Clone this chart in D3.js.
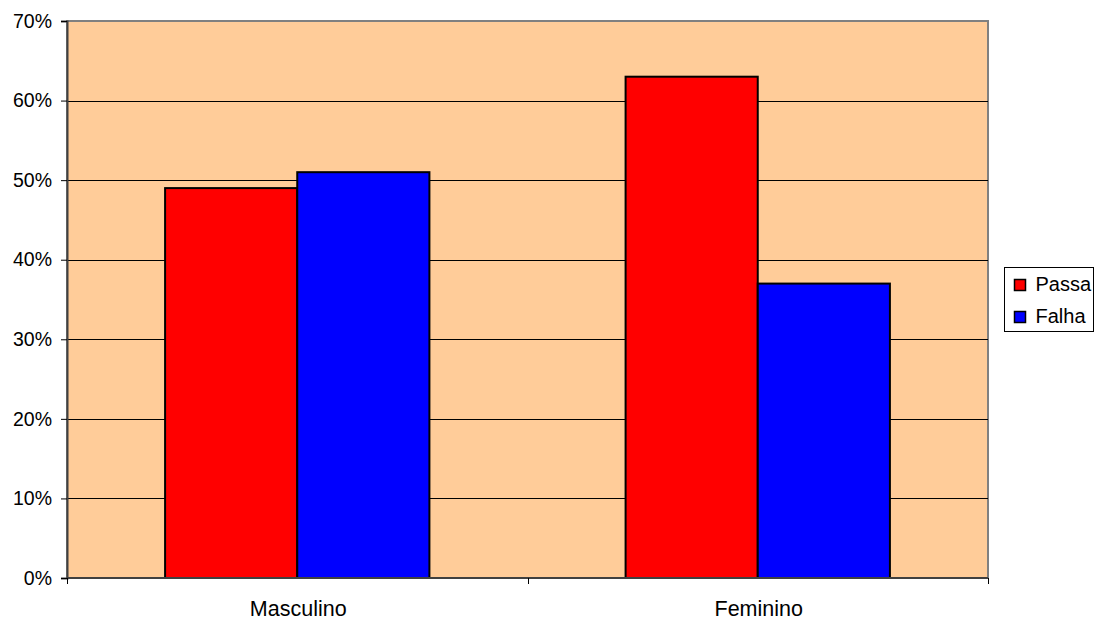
<!DOCTYPE html>
<html>
<head>
<meta charset="utf-8">
<script src="https://cdn.jsdelivr.net/npm/d3@7"></script>
<style>
  body { margin: 0; background: #fff; }
  text { font-family: "Liberation Sans", Arial, sans-serif; fill: #000; }
</style>
</head>
<body>
<svg id="chart" width="1095" height="621"></svg>
<script>
// Share of results by sex
const categories = ["Masculino", "Feminino"];
const seriesNames = ["Passa", "Falha"];
const passaValues = [0.49, 0.63];
const falhaValues = [0.51, 0.37];
const yTicks = [0, 0.1, 0.2, 0.3, 0.4, 0.5, 0.6, 0.7];
const seriesColors = ["#ff0000", "#0000ff"];

const svg = d3.select("#chart");
const plot = { left: 67, top: 21, right: 988, bottom: 578 };

const x0 = d3.scaleBand().domain(categories)
  .range([plot.left, plot.right]).paddingInner(0.426).paddingOuter(0.213);
const x1 = d3.scaleBand().domain(seriesNames).range([0, x0.bandwidth()]);
const y = d3.scaleLinear().domain([0, 0.7]).range([plot.bottom, plot.top]);

// plot background
svg.append("rect")
  .attr("x", plot.left).attr("y", plot.top)
  .attr("width", plot.right - plot.left).attr("height", plot.bottom - plot.top)
  .attr("fill", "#ffcc99").attr("stroke", "#808080").attr("stroke-width", 2);

// horizontal gridlines
svg.append("g").selectAll("line")
  .data(yTicks.filter(t => t > 0 && t < 0.7))
  .join("line")
  .attr("x1", plot.left).attr("x2", plot.right)
  .attr("y1", d => Math.round(y(d)) + 0.5).attr("y2", d => Math.round(y(d)) + 0.5)
  .attr("stroke", "#000").attr("stroke-width", 1);

// bars
const rows = categories.map((c, i) => ({
  cat: c,
  vals: [
    { s: seriesNames[0], v: passaValues[i], color: seriesColors[0] },
    { s: seriesNames[1], v: falhaValues[i], color: seriesColors[1] }
  ]
}));
svg.append("g").selectAll("g")
  .data(rows).join("g")
  .attr("transform", d => `translate(${x0(d.cat)},0)`)
  .selectAll("rect")
  .data(d => d.vals).join("rect")
  .attr("x", d => x1(d.s)).attr("width", x1.bandwidth())
  .attr("y", d => y(d.v)).attr("height", d => y(0) - y(d.v))
  .attr("fill", d => d.color).attr("stroke", "#000").attr("stroke-width", 2);

// y axis
const yAxis = svg.append("g")
  .attr("transform", `translate(${plot.left},0)`)
  .call(d3.axisLeft(y).tickValues(yTicks).tickFormat(d3.format(".0%")).tickSize(6).tickPadding(9));
yAxis.select(".domain").attr("stroke", "#404040").attr("stroke-width", 2);
yAxis.selectAll(".tick line").attr("stroke", "#000");
yAxis.selectAll("text")
  .style("font-family", "'Liberation Sans', Arial, sans-serif")
  .style("font-size", "19.5px").attr("fill", "#000");

// x axis
const xAxis = svg.append("g").attr("transform", `translate(0,${plot.bottom})`);
xAxis.append("line")
  .attr("x1", plot.left).attr("x2", plot.right).attr("y1", 0).attr("y2", 0)
  .attr("stroke", "#404040").attr("stroke-width", 2);
const xBounds = [plot.left, (plot.left + plot.right) / 2, plot.right];
xAxis.selectAll(".xtick").data(xBounds).join("line")
  .attr("x1", d => Math.round(d) + 0.5).attr("x2", d => Math.round(d) + 0.5)
  .attr("y1", 0).attr("y2", 6).attr("stroke", "#000");
xAxis.selectAll(".xlabel").data(categories).join("text")
  .attr("x", d => x0(d) + x0.bandwidth() / 2 + 1).attr("y", 37.5)
  .attr("text-anchor", "middle").style("font-size", "21.5px").text(d => d);

// legend
const legend = svg.append("g").attr("transform", "translate(1004.5,267.5)");
legend.append("rect").attr("width", 89).attr("height", 64)
  .attr("fill", "#fff").attr("stroke", "#000").attr("stroke-width", 1);
seriesNames.forEach((name, i) => {
  const g = legend.append("g").attr("transform", `translate(0,${i * 32})`);
  g.append("rect").attr("x", 10).attr("y", 12).attr("width", 11).attr("height", 11)
    .attr("fill", seriesColors[i]).attr("stroke", "#000").attr("stroke-width", 1.5);
  g.append("text").attr("x", 31).attr("y", 23.5).style("font-size", "20px").text(name);
});
</script>
</body>
</html>
